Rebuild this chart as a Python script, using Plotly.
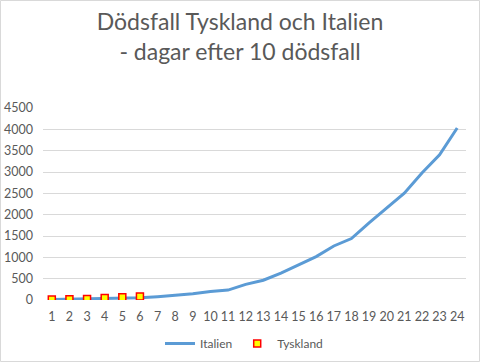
import plotly.graph_objects as go

days = list(range(1, 25))
italien = [12, 17, 21, 29, 34, 52, 79, 107, 148, 197, 233, 366, 463, 631, 827,
           1016, 1266, 1441, 1809, 2158, 2503, 2978, 3405, 4032]
tyskland_days = [1, 2, 3, 4, 5, 6]
tyskland = [12, 17, 24, 44, 67, 84]
y_ticks = list(range(0, 5000, 500))

W, H = 480, 362
ml, mr, mt, mb = 43, 14, 108, 62
pw, ph = W - ml - mr, H - mt - mb

fig = go.Figure()
fig.add_trace(go.Scatter(x=days, y=italien, mode="lines", name="Italien",
                         line=dict(color="#5b9bd5", width=3)))
fig.add_trace(go.Scatter(x=tyskland_days, y=tyskland, mode="markers", name="Tyskland",
                         marker=dict(symbol="square", size=7, color="#ffff00",
                                     line=dict(color="#ff0000", width=1.5))))

fig.update_layout(
    width=W, height=H,
    margin=dict(l=ml, r=mr, t=mt, b=mb, autoexpand=False),
    paper_bgcolor="white", plot_bgcolor="white",
    font=dict(family="Lato, Carlito, sans-serif", color="#595959", size=12.5),
    title=dict(text="Dödsfall Tyskland och Italien<br>- dagar efter 10 dödsfall",
               x=0.5, xanchor="center", y=0.918, yanchor="top",
               font=dict(size=23, color="#595959")),
    xaxis=dict(range=[0.5, 24.5], tickmode="array", tickvals=days,
               ticktext=[str(d) for d in days], showgrid=False, zeroline=False,
               showline=False, ticks="", ticklabelstandoff=7),
    yaxis=dict(range=[0, 4500], tickmode="array", tickvals=y_ticks,
               showgrid=True, gridcolor="#d9d9d9", gridwidth=1, zeroline=False,
               showline=False, ticks="", ticklabelstandoff=9),
    showlegend=True,
    legend=dict(orientation="h", x=(160 - ml) / pw, xanchor="left",
                y=-(329 - 300) / ph, yanchor="top",
                font=dict(size=12, color="#595959"), itemwidth=30),
)
# outer border
fig.add_shape(type="rect", xref="paper", yref="paper",
              x0=-(ml - 0.5) / pw, x1=1 + (mr - 0.5) / pw,
              y0=-(mb - 0.5) / ph, y1=1 + (mt - 0.5) / ph,
              line=dict(color="#d9d9d9", width=1), layer="below")

fig.write_html("out.html", config={"displayModeBar": False},
               post_script="document.body.style.margin='0';document.body.style.overflow='hidden';")
